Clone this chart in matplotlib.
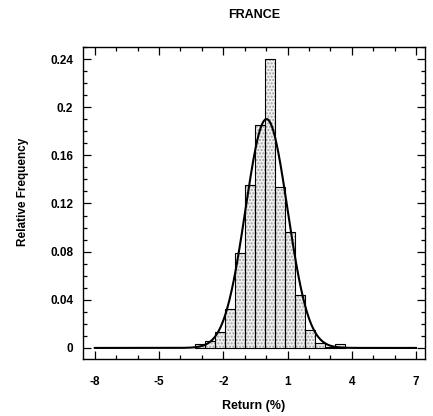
import numpy as np
import matplotlib
matplotlib.use("Agg")
import matplotlib.pyplot as plt
from matplotlib.ticker import MultipleLocator, FixedLocator

# Data
bin_start = -3.3
bin_width = 0.467
freqs = [0.003, 0.006, 0.0134, 0.032, 0.079, 0.135, 0.185, 0.240,
         0.134, 0.096, 0.044, 0.0148, 0.004, 0.001, 0.0035]
fit_mu = 0.02
fit_sigma = 0.98
x_ticks = [-8, -5, -2, 1, 4, 7]
y_ticks = [0, 0.04, 0.08, 0.12, 0.16, 0.2, 0.24]
y_ticklabels = ["0", "0.04", "0.08", "0.12", "0.16", "0.2", "0.24"]

plt.rcParams['font.family'] = ['Liberation Sans', 'DejaVu Sans']
plt.rcParams['font.weight'] = 'bold'
plt.rcParams['axes.unicode_minus'] = False

fig = plt.figure(figsize=(4.33, 4.16), dpi=100)
ax = fig.add_axes([0.1917, 0.137, 0.7898, 0.750])

edges = bin_start + bin_width * np.arange(len(freqs))
ax.bar(edges, freqs, width=bin_width, align='edge', facecolor='#f0f0f0',
       edgecolor='#a0a0a0', hatch='.....', linewidth=0, zorder=1)
ax.bar(edges, freqs, width=bin_width, align='edge', facecolor='none',
       edgecolor='black', linewidth=0.8, zorder=2)

xs = np.linspace(-8, 7, 600)
ys = bin_width / (fit_sigma * np.sqrt(2 * np.pi)) * np.exp(-0.5 * ((xs - fit_mu) / fit_sigma) ** 2)
ax.plot(xs, ys, color='black', linewidth=1.5, zorder=3)

ax.set_xlim(-8.55, 7.42)
ax.set_ylim(-0.0092, 0.250)
ax.xaxis.set_major_locator(FixedLocator(x_ticks))
ax.xaxis.set_minor_locator(MultipleLocator(1))
ax.yaxis.set_major_locator(FixedLocator(y_ticks))
ax.set_yticklabels(y_ticklabels)
ax.yaxis.set_minor_locator(MultipleLocator(0.01))
ax.tick_params(which='both', direction='in', top=True, right=True, width=0.9,
               labelsize=8.5, pad=7)
ax.tick_params(which='major', length=6)
ax.tick_params(which='minor', length=3)
ax.tick_params(axis='x', pad=12)
for s in ax.spines.values():
    s.set_linewidth(1.0)

ax.set_title("FRANCE", fontsize=9, fontweight='bold', pad=21)
ax.set_xlabel("Return (%)", fontsize=9, fontweight='bold', labelpad=9)
ax.set_ylabel("Relative Frequency", fontsize=8.5, fontweight='bold')
ax.yaxis.set_label_coords(-0.158, 0.535)

fig.savefig("out.png", dpi=100)
